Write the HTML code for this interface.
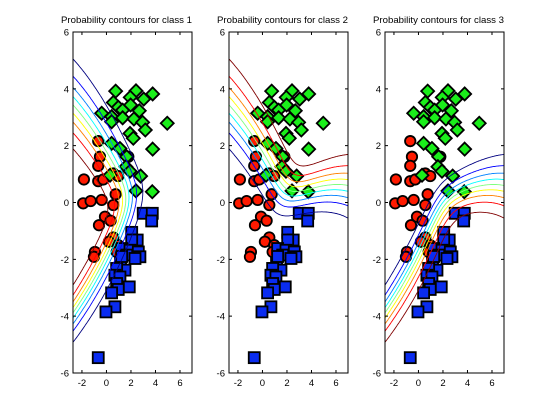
<!DOCTYPE html>
<html><head><meta charset="utf-8"><style>
body{margin:0;background:#fff;}
svg{display:block;font-family:"Liberation Sans",sans-serif;}
</style></head><body>
<svg id="fig" width="560" height="420" viewBox="0 0 560 420"></svg>
<script>
const greenX=[0.75,2.41,0.56,1.94,3.04,3.77,0.97,1.32,1.97,2.68,-0.39,0.42,1.32,2.24,2.95,0.42,4.96,3.17,1.92,2.19,3.77,0.42,1.10,1.65,1.59,0.29,2.79,2.41,3.74,1.92];
const greenY=[3.92,3.93,3.52,3.70,3.64,3.82,3.35,3.25,3.43,3.23,3.14,3.02,2.98,2.94,2.82,2.84,2.79,2.55,2.43,2.26,1.88,2.08,1.90,1.61,1.26,0.96,0.93,0.41,0.38,1.10];
const redX=[-0.67,-0.53,-0.67,-1.84,-0.67,-0.26,0.56,0.96,1.78,0.75,-1.9,-1.29,-0.39,0.56,-0.12,0.34,-0.61,0.56,0.20,0.96,0.83,-0.94,-1.02];
const redY=[2.16,1.61,1.29,0.81,0.75,0.81,1.02,0.93,1.61,0.29,-0.03,0.05,0.09,-0.09,-0.50,-0.64,-0.80,-1.23,-1.38,-1.50,-1.74,-1.74,-1.91];
const blueX=[3.0,3.74,3.69,2.06,2.51,2.06,1.24,1.92,2.6,1.65,2.73,2.33,1.15,1.51,0.83,0.69,1.10,0.83,1.86,0.96,0.42,0.69,-0.04,-0.67,1.24];
const blueY=[-0.38,-0.38,-0.65,-1.05,-1.32,-1.32,-1.62,-1.68,-1.74,-1.85,-1.91,-1.97,-2.15,-2.38,-2.32,-2.56,-2.62,-2.85,-2.97,-3.06,-3.18,-3.67,-3.85,-5.46,-1.9];
const levels=[0.1,0.2,0.3,0.4,0.5,0.6,0.7,0.8,0.9];
const xTicks=[-2,0,2,4,6];
const yTicks=[-6,-4,-2,0,2,4,6];
const titles=["Probability contours for class 1","Probability contours for class 2","Probability contours for class 3"];

const NS="http://www.w3.org/2000/svg";
const svg=document.getElementById('fig');
const XMIN=-2.73,XMAX=6.98,YMIN=-6,YMAX=6;
const PW=119,TOP=32,BOT=373,LEFTS=[73,229,385];
const TEMP=0.75, OWN=0.3;
function mk(tag,attrs,parent){const e=document.createElementNS(NS,tag);for(const k in attrs)e.setAttribute(k,attrs[k]);(parent||svg).appendChild(e);return e;}

function stats(xs,ys){const n=xs.length;let mx=0,my=0;for(let i=0;i<n;i++){mx+=xs[i];my+=ys[i];}mx/=n;my/=n;
 let a=0,b=0,c=0;for(let i=0;i<n;i++){const dx=xs[i]-mx,dy=ys[i]-my;a+=dx*dx;b+=dx*dy;c+=dy*dy;}return {mx,my,a:a/n,b:b/n,c:c/n,n};}
const S=[stats(redX,redY),stats(greenX,greenY),stats(blueX,blueY)];
const NT=S[0].n+S[1].n+S[2].n;
const pa=S.reduce((s,m)=>s+m.a*m.n,0)/NT,pb=S.reduce((s,m)=>s+m.b*m.n,0)/NT,pc=S.reduce((s,m)=>s+m.c*m.n,0)/NT;
const models=S.map(m=>{const a=OWN*m.a+(1-OWN)*pa,b=OWN*m.b+(1-OWN)*pb,c=OWN*m.c+(1-OWN)*pc;const det=a*c-b*b;
 return {mx:m.mx,my:m.my,ia:c/det,ib:-b/det,ic:a/det,ld:Math.log(det),p:m.n};});
function post(x,y){const l=models.map(m=>{const dx=x-m.mx,dy=y-m.my;return TEMP*(-0.5*(m.ia*dx*dx+2*m.ib*dx*dy+m.ic*dy*dy)-0.5*m.ld)+Math.log(m.p);});
 const mx=Math.max(...l);const e=l.map(v=>Math.exp(v-mx));const s=e[0]+e[1]+e[2];return e.map(v=>v/s);}
function jet(t){const cl=v=>Math.max(0,Math.min(1,v));const r=cl(1.5-Math.abs(4*t-3)),g=cl(1.5-Math.abs(4*t-2)),b=cl(1.5-Math.abs(4*t-1));
 return `rgb(${Math.round(r*255)},${Math.round(g*255)},${Math.round(b*255)})`;}

const NX=120,NY=150;
const grid=[];for(let j=0;j<=NY;j++){const row=[];for(let i=0;i<=NX;i++){row.push(post(XMIN+(XMAX-XMIN)*i/NX,YMIN+(YMAX-YMIN)*j/NY));}grid.push(row);}

LEFTS.forEach((L,k)=>{
 const sx=v=>L+(v-XMIN)/(XMAX-XMIN)*PW, sy=v=>BOT-(v-YMIN)/(YMAX-YMIN)*(BOT-TOP);
 const g=mk('g',{});
 
 const cp=mk('clipPath',{id:'clip'+k},g);
 mk('rect',{x:L,y:TOP,width:PW,height:BOT-TOP},cp);
 const t=mk('text',{x:L-12,y:TOP-9,'font-size':'9.5',textLength:131,lengthAdjust:'spacingAndGlyphs'},g);t.textContent=titles[k];
 
 const pts=mk('g',{'clip-path':`url(#clip${k})`},g);
 
 redX.forEach((x,i)=>{const c=mk('circle',{cx:sx(x),cy:sy(redY[i]),r:5.2,fill:'#ff1a00',stroke:'#000','stroke-width':1.8},pts);
  });
 greenX.forEach((x,i)=>{const X=sx(x),Y=sy(greenY[i]),d=6.5;
  const p=mk('polygon',{points:`${X},${Y-d} ${X+d},${Y} ${X},${Y+d} ${X-d},${Y}`,fill:'#1aee1a',stroke:'#000','stroke-width':1.8},pts);
  });
 blueX.forEach((x,i)=>{const X=sx(x),Y=sy(blueY[i]),d=5.5;
  const r=mk('rect',{x:X-d,y:Y-d,width:2*d,height:2*d,fill:'#0a2cf0',stroke:'#000','stroke-width':1.8},pts);
  });
 const cg=mk('g',{'clip-path':`url(#clip${k})`,fill:'none','stroke-width':0.9},g);
 
 const gx=i=>sx(XMIN+(XMAX-XMIN)*i/NX), gy=j=>sy(YMIN+(YMAX-YMIN)*j/NY);
 levels.forEach(lv=>{let d='';
  for(let j=0;j<NY;j++)for(let i=0;i<NX;i++){
   const v=[grid[j][i][k],grid[j][i+1][k],grid[j+1][i+1][k],grid[j+1][i][k]];
   const cs=[[i,j],[i+1,j],[i+1,j+1],[i,j+1]];const cross=[];
   for(let e=0;e<4;e++){const a=v[e],b=v[(e+1)%4];if((a<lv)!==(b<lv)){const f=(lv-a)/(b-a);const A=cs[e],B=cs[(e+1)%4];
    cross.push([gx(A[0]+(B[0]-A[0])*f),gy(A[1]+(B[1]-A[1])*f)]);}}
   for(let q=0;q+1<cross.length;q+=2)d+=`M${cross[q][0].toFixed(1)} ${cross[q][1].toFixed(1)}L${cross[q+1][0].toFixed(1)} ${cross[q+1][1].toFixed(1)}`;
  }
  const p=mk('path',{d,stroke:jet((lv-0.1)/0.8)},cg);
  });
 const box=mk('rect',{x:L,y:TOP,width:PW,height:BOT-TOP,fill:'none',stroke:'#000','stroke-width':1},g);
 
 xTicks.forEach(v=>{const X=sx(v);mk('path',{d:`M${X} ${BOT}v-3M${X} ${TOP}v3`,stroke:'#000'},g);
  const tt=mk('text',{x:X,y:BOT+13,'text-anchor':'middle','font-size':'9.5'},g);tt.textContent=v;
  });
 yTicks.forEach(v=>{const Y=sy(v);mk('path',{d:`M${L} ${Y}h3M${L+PW} ${Y}h-3`,stroke:'#000'},g);
  const tt=mk('text',{x:L-4,y:Y+3.5,'text-anchor':'end','font-size':'9.5'},g);tt.textContent=v;
  });
});
</script>
</body></html>
